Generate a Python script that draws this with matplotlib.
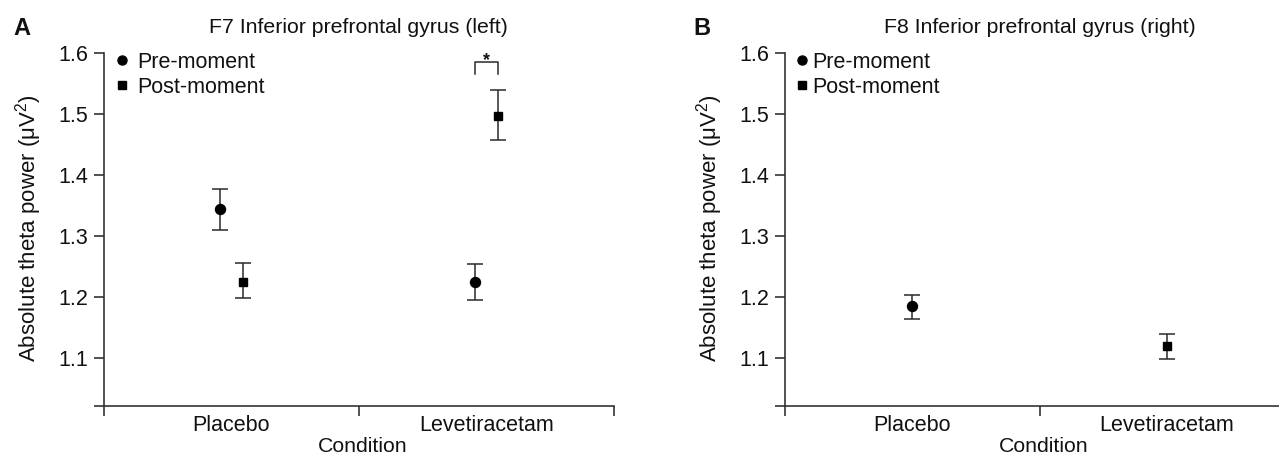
import matplotlib
matplotlib.use("Agg")
import matplotlib.pyplot as plt
from matplotlib.lines import Line2D

plt.rcParams['font.family'] = ['Liberation Sans', 'DejaVu Sans']
plt.rcParams['mathtext.fontset'] = 'custom'
plt.rcParams['mathtext.rm'] = 'Liberation Sans'

conditions = ["Placebo", "Levetiracetam"]
series = ["Pre-moment", "Post-moment"]

# Panel A: F7 (left)
a_pre = [1.345, 1.225]
a_pre_lo = [1.310, 1.196]
a_pre_hi = [1.377, 1.254]
a_post = [1.225, 1.497]
a_post_lo = [1.199, 1.457]
a_post_hi = [1.256, 1.539]

# Panel B: F8 (right) - one point per condition shown
b_pre = [1.185]
b_pre_lo = [1.165]
b_pre_hi = [1.203]
b_post = [1.120]
b_post_lo = [1.099]
b_post_hi = [1.140]

yticks = [1.1, 1.2, 1.3, 1.4, 1.5, 1.6]
ytick_labels = ["1.1", "1.2", "1.3", "1.4", "1.5", "1.6"]

W, H = 1279, 458
fig = plt.figure(figsize=(W / 100, H / 100), dpi=100)
ax_w = 510
y_top, y_bot = 53.3, 405.7
axA_left = 103.7
axB_left = 784.5
axA = fig.add_axes([axA_left / W, 1 - y_bot / H, ax_w / W, (y_bot - y_top) / H])
axB = fig.add_axes([axB_left / W, 1 - y_bot / H, ax_w / W, (y_bot - y_top) / H])

spine_col = "#333333"
txt_col = "#111111"

def style(ax, left, title, letter, letter_x):
    ax.set_xlim(0, 2)
    ax.set_ylim(1.022, 1.6)
    ax.set_yticks([1.022] + yticks)
    ax.set_yticklabels([""] + ytick_labels, fontsize=15.5, color=txt_col)
    ax.set_xticks([0, 1, 2])
    ax.set_xticklabels([])
    ax.set_xticks([0.5, 1.5], minor=True)
    ax.set_xticklabels(conditions, minor=True, fontsize=15.5, color=txt_col)
    ax.tick_params(axis='x', which='minor', length=0, pad=7)
    ax.tick_params(axis='both', which='major', length=7, width=1.2, color=spine_col, direction='out')
    ax.tick_params(axis='y', pad=4)
    for s in ["top", "right"]:
        ax.spines[s].set_visible(False)
    for s in ["left", "bottom"]:
        ax.spines[s].set_color(spine_col)
        ax.spines[s].set_linewidth(1.2)
    cx = (left + ax_w / 2) / W
    fig.text(cx, 1 - 33 / H, title, fontsize=15.3, ha='center', va='baseline', color=txt_col)
    fig.text((left + ax_w / 2 + 4) / W, 1 - 452.5 / H, "Condition", fontsize=15.3,
             ha='center', va='baseline', color=txt_col)
    fig.text((left - 74.7) / W, 1 - 228 / H, "Absolute theta power (μV$^2$)", fontsize=16,
             rotation=90, ha='center', va='center', color=txt_col)
    fig.text(letter_x / W, 1 - 35 / H, letter, fontsize=17, fontweight='bold',
             ha='left', va='baseline', color=txt_col)

def draw(ax, x, y, lo, hi, marker, ms):
    yerr = [[v - l for v, l in zip(y, lo)], [h - v for v, h in zip(y, hi)]]
    ax.errorbar(x, y, yerr=yerr, fmt=marker, color='black', ecolor='#2a2a2a',
                markersize=ms, capsize=5.8, elinewidth=1.1, capthick=1.1, lw=0, zorder=3)

off = 0.045
xA_pre = [i + 0.5 - off for i in range(len(conditions))]
xA_post = [i + 0.5 + off for i in range(len(conditions))]
draw(axA, xA_pre, a_pre, a_pre_lo, a_pre_hi, 'o', 7.2)
draw(axA, xA_post, a_post, a_post_lo, a_post_hi, 's', 6.3)
style(axA, axA_left, "F7 Inferior prefrontal gyrus (left)", "A", 13)

# significance bracket
bx0, bx1 = xA_pre[1], xA_post[1]
axA.plot([bx0, bx0, bx1, bx1], [1.566, 1.586, 1.586, 1.566], color='#2a2a2a', lw=1.1,
         clip_on=False)
axA.text((bx0 + bx1) / 2, 1.581, "*", ha='center', va='baseline', fontsize=13,
         fontweight='bold', color=txt_col)

draw(axB, [0.5], b_pre, b_pre_lo, b_pre_hi, 'o', 7.2)
draw(axB, [1.5], b_post, b_post_lo, b_post_hi, 's', 6.3)
style(axB, axB_left, "F8 Inferior prefrontal gyrus (right)", "B", 693)

fs_leg = 15.5
hl = 0.6
for ax, handle_start, htp in ((axA, 116.0, 0.376), (axB, 795.5, 0.16)):
    h1 = Line2D([], [], marker='o', color='black', markersize=6.5, lw=0)
    h2 = Line2D([], [], marker='s', color='black', markersize=5.4, lw=0)
    leg = ax.legend([h1, h2], series, loc='upper left',
                    bbox_to_anchor=(handle_start / W, 1 - 52 / H),
                    bbox_transform=fig.transFigure,
                    frameon=False, fontsize=fs_leg, handletextpad=htp, handlelength=hl,
                    labelspacing=0.18, borderaxespad=0, borderpad=0)
    for t in leg.get_texts():
        t.set_color(txt_col)

fig.savefig("out.png", dpi=100)
